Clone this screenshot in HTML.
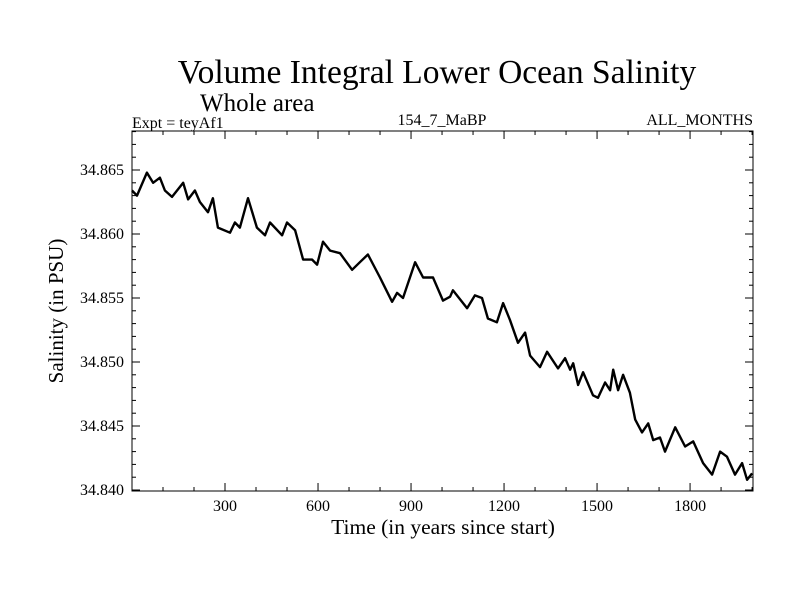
<!DOCTYPE html>
<html><head><meta charset="utf-8"><style>
body{margin:0;background:#fff;}
svg text{font-family:"Liberation Serif",serif;fill:#000;}
</style></head><body>
<svg width="800" height="600" xmlns="http://www.w3.org/2000/svg">
<rect width="800" height="600" fill="#fff"/>
<text x="437" y="83" font-size="33.5" text-anchor="middle">Volume Integral Lower Ocean Salinity</text>
<text x="200" y="111" font-size="25">Whole area</text>
<text x="132" y="128" font-size="16">Expt = teyAf1</text>
<text x="442" y="125" font-size="16" text-anchor="middle">154_7_MaBP</text>
<text x="753" y="125" font-size="16" text-anchor="end">ALL_MONTHS</text>
<g id="axes"></g>
<path id="series" fill="none" stroke="#000" stroke-width="2.4" stroke-linejoin="round"/>
<rect x="132" y="131" width="621" height="360" fill="none" stroke="#000" stroke-width="1"/>
<text x="443" y="534" font-size="21.5" text-anchor="middle">Time (in years since start)</text>
<text transform="translate(63,311) rotate(-90)" font-size="21" text-anchor="middle">Salinity (in PSU)</text>
</svg>
<script>
const years=[0,16,48,68,90,106,129,165,181,203,219,245,261,277,316,332,348,374,403,429,445,484,500,526,552,581,597,616,639,671,710,735,761,800,839,855,874,913,939,971,1003,1026,1035,1081,1106,1129,1148,1177,1197,1219,1245,1268,1284,1316,1339,1374,1397,1413,1423,1439,1455,1487,1503,1526,1542,1552,1568,1584,1606,1623,1645,1665,1681,1703,1719,1752,1784,1810,1842,1871,1897,1919,1945,1968,1984,2000];
const salinity=[34.8634,34.8630,34.8648,34.8640,34.8644,34.8634,34.8629,34.8640,34.8627,34.8634,34.8625,34.8617,34.8628,34.8605,34.8601,34.8609,34.8605,34.8628,34.8605,34.8599,34.8609,34.8599,34.8609,34.8603,34.8580,34.8580,34.8576,34.8594,34.8587,34.8585,34.8572,34.8578,34.8584,34.8566,34.8547,34.8554,34.8550,34.8578,34.8566,34.8566,34.8548,34.8551,34.8556,34.8542,34.8552,34.8550,34.8534,34.8531,34.8546,34.8533,34.8515,34.8523,34.8505,34.8496,34.8508,34.8495,34.8503,34.8494,34.8499,34.8482,34.8492,34.8474,34.8472,34.8484,34.8478,34.8494,34.8478,34.8490,34.8476,34.8455,34.8445,34.8452,34.8439,34.8441,34.8430,34.8449,34.8434,34.8438,34.8421,34.8412,34.8430,34.8426,34.8412,34.8421,34.8408,34.8413];
const xTicks=[300,600,900,1200,1500,1800];
const yTicks=[34.840,34.845,34.850,34.855,34.860,34.865];
const L=132,R=753,T=131,B=491,X0=0,X1=2003,Y0=34.840,Y1=34.8682;
function sx(v){return L+(v-X0)/(X1-X0)*(R-L);}
function sy(v){return B-1-(v-Y0)/(0.005)*64;}
const ns="http://www.w3.org/2000/svg";
const g=document.getElementById('axes');
function line(x1,y1,x2,y2,name){const l=document.createElementNS(ns,'line');l.setAttribute('x1',x1);l.setAttribute('y1',y1);l.setAttribute('x2',x2);l.setAttribute('y2',y2);l.setAttribute('stroke','#000');


g.appendChild(l);}
function txt(x,y,s,anchor,name){const t=document.createElementNS(ns,'text');t.setAttribute('x',x);t.setAttribute('y',y);t.setAttribute('font-size','16');t.setAttribute('text-anchor',anchor);t.textContent=s;


g.appendChild(t);}
for(let v=100;v<X1;v+=100){const x=sx(v);const maj=v%300===0;const len=maj?8:4;line(x,B,x,B-len,'x-tick');line(x,T,x,T+len,'x-tick-top');}
xTicks.forEach(v=>txt(sx(v),511,String(v),'middle','x-tick-label'));
for(let i=0;i<=28;i++){const v=Y0+i*0.001;const y=sy(v);if(y<T)break;const maj=i%5===0;const len=maj?8:4;line(L,y,L+len,y,'y-tick');line(R,y,R-len,y,'y-tick-right');}
yTicks.forEach(v=>txt(124,sy(v)+5,v.toFixed(3),'end','y-tick-label'));
let d='';years.forEach((yr,i)=>{d+=(i?'L':'M')+sx(yr).toFixed(1)+','+sy(salinity[i]).toFixed(1);});
document.getElementById('series').setAttribute('d',d);
</script>
</body></html>
